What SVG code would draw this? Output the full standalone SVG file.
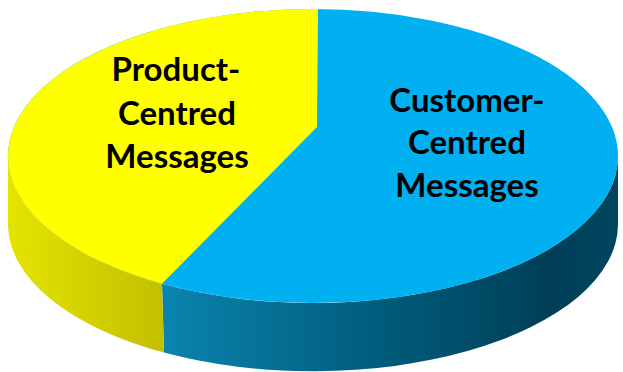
<svg xmlns="http://www.w3.org/2000/svg" width="623" height="372" viewBox="0 0 623 372">
  <style>
    .lbl { font-family: Lato, "Liberation Sans", sans-serif; font-weight: bold; font-size: 33px; fill: #000; text-anchor: middle; }
  </style>
  <defs>
    <linearGradient id="ySide" gradientUnits="userSpaceOnUse" x1="8" y1="0" x2="165" y2="0">
      <stop offset="0" stop-color="#e4e400"/>
      <stop offset="1" stop-color="#c2bf00"/>
    </linearGradient>
    <linearGradient id="bSide" gradientUnits="userSpaceOnUse" x1="164" y1="0" x2="618" y2="0">
      <stop offset="0" stop-color="#0a84ae"/>
      <stop offset="0.5" stop-color="#005a79"/>
      <stop offset="0.85" stop-color="#003f57"/>
      <stop offset="1" stop-color="#00455f"/>
    </linearGradient>
  </defs>
  <rect width="623" height="372" fill="#ffffff"/>
  <g id="slice-customer">
    <path d="M164,352.5 L162,283.7 A305,147 0 0 0 618,156 L618,224 A305,147 0 0 1 164,352.5 Z" fill="url(#bSide)"/>
    <ellipse cx="313" cy="156" rx="305" ry="147" fill="#00b0f0"/>
    <text class="lbl" x="467" y="112">Customer-</text>
    <text class="lbl" x="467" y="154">Centred</text>
    <text class="lbl" x="467" y="197">Messages</text>
  </g>
  <g id="slice-product">
    <path d="M8,156 A305,147 0 0 0 162,283.7 L164,352.5 A305,147 0 0 1 8,224 Z" fill="url(#ySide)"/>
    <path d="M318,9 L317,127 L162,283.7 A305,147 0 0 1 8,156 A305,147 0 0 1 318,9 Z" fill="#ffff00"/>
    <text class="lbl" x="176" y="81">Product-</text>
    <text class="lbl" x="177" y="125">Centred</text>
    <text class="lbl" x="177" y="168">Messages</text>
  </g>
</svg>
